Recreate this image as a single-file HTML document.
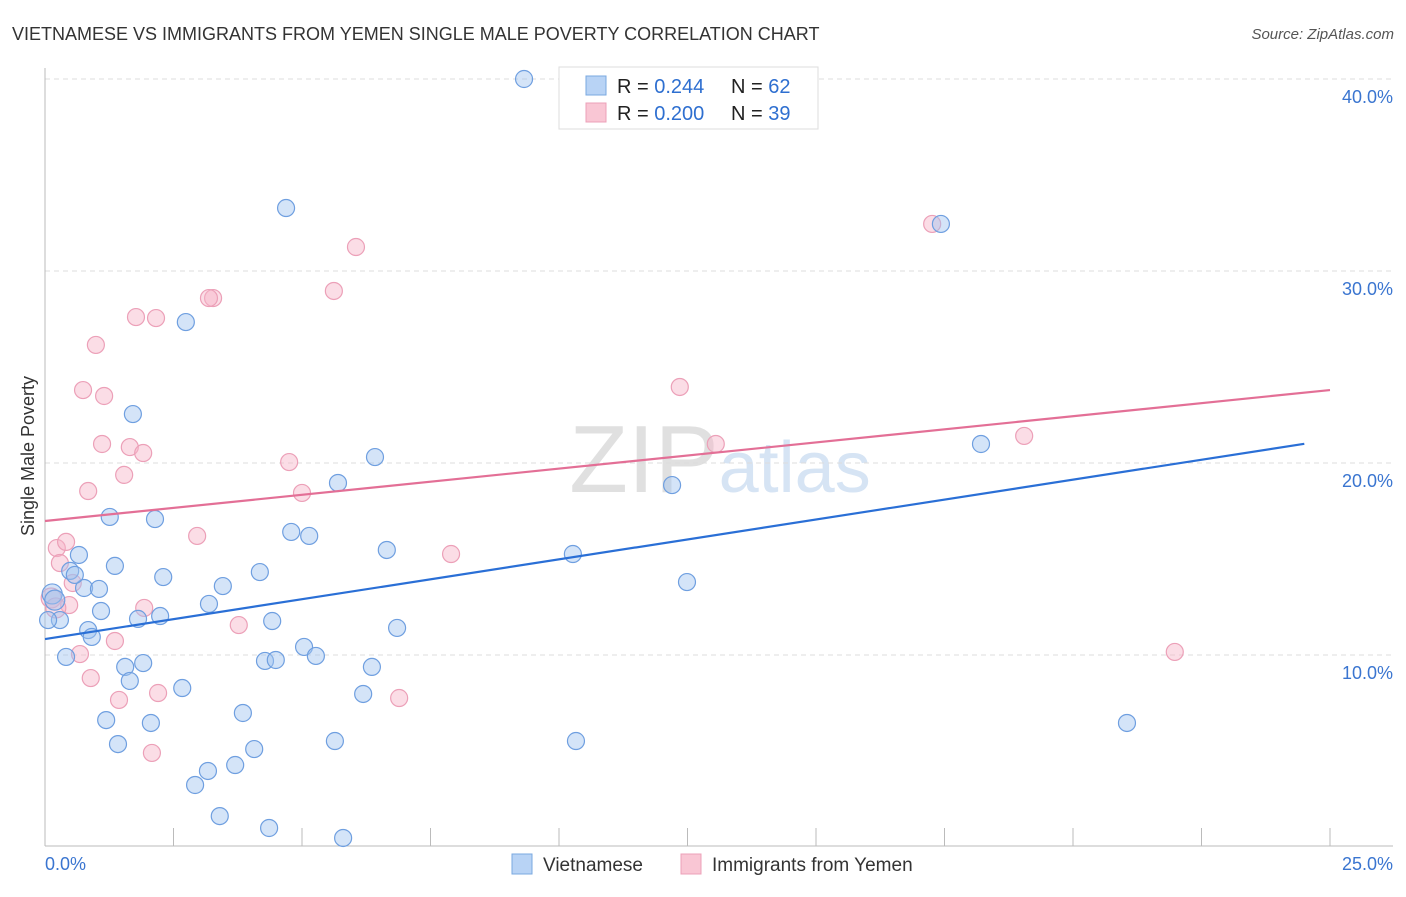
<!DOCTYPE html>
<html><head><meta charset="utf-8"><style>
body{margin:0;background:#fff;font-family:"Liberation Sans",sans-serif;}
svg text{font-family:"Liberation Sans",sans-serif;}
</style></head><body>
<svg id="chart" width="1406" height="892">
<text x="12" y="40" font-size="18" fill="#333">VIETNAMESE VS IMMIGRANTS FROM YEMEN SINGLE MALE POVERTY CORRELATION CHART</text>
<text x="1394" y="39" font-size="15" fill="#555" text-anchor="end" font-style="italic">Source: ZipAtlas.com</text>
<text x="720" y="492" font-size="96" fill="#e4e4e4" text-anchor="middle" font-family="Liberation Serif"><tspan fill="#e0e0e0">ZIP</tspan><tspan fill="#d6e4f4" font-family="Liberation Sans" font-size="72">atlas</tspan></text>
<g id="grid"></g><g id="axes"></g>
<g id="pink"></g><g id="blue"></g><g id="lines"></g>
<text transform="translate(34,456) rotate(-90)" font-size="18" fill="#333" text-anchor="middle">Single Male Poverty</text>
<g>
<rect x="559" y="67" width="259" height="62" fill="#fff" stroke="#ddd"/>
<rect x="586" y="76" width="20" height="19" fill="#b8d3f5" stroke="#7aa8e0"/>
<rect x="586" y="103" width="20" height="19" fill="#f9c6d4" stroke="#eca0b8"/>
<text x="617" y="93" font-size="20" fill="#222">R = <tspan fill="#2e6fd0">0.244</tspan><tspan x="731">N = </tspan><tspan fill="#2e6fd0">62</tspan></text>
<text x="617" y="120" font-size="20" fill="#222">R = <tspan fill="#2e6fd0">0.200</tspan><tspan x="731">N = </tspan><tspan fill="#2e6fd0">39</tspan></text>
</g>
<g>
<rect x="512" y="854" width="20" height="20" fill="#b8d3f5" stroke="#7aa8e0"/>
<text x="543" y="871" font-size="19" fill="#333">Vietnamese</text>
<rect x="681" y="854" width="20" height="20" fill="#f9c6d4" stroke="#eca0b8"/>
<text x="712" y="871" font-size="19" fill="#333">Immigrants from Yemen</text>
</g>
</svg>
<script>
const blueX=[9.32,4.69,17.43,2.74,1.71,6.42,18.21,5.70,12.20,1.26,2.14,4.79,5.14,6.65,0.66,10.27,1.36,0.49,4.18,2.30,12.49,3.46,0.76,1.05,0.14,0.19,3.19,1.09,2.24,1.81,0.29,4.42,0.84,6.85,0.91,5.04,5.27,0.41,1.91,4.28,4.49,1.56,6.36,1.65,2.67,6.19,3.85,1.19,2.06,21.05,5.64,10.33,1.42,4.07,3.70,3.17,2.92,3.40,4.36,5.80,0.06,0.58];
const blueY=[40.0,33.28,32.45,27.34,22.55,20.31,20.99,18.96,18.85,17.19,17.08,16.41,16.20,15.47,15.21,15.26,14.64,14.38,14.32,14.06,13.80,13.59,13.49,13.44,13.18,12.86,12.66,12.29,12.03,11.88,11.82,11.77,11.30,11.41,10.94,10.42,9.95,9.90,9.58,9.69,9.74,9.38,9.38,8.65,8.28,7.97,6.98,6.61,6.46,6.46,5.52,5.52,5.36,5.10,4.27,3.96,3.23,1.61,0.99,0.47,11.82,14.17];
const pinkX=[3.27,3.19,6.05,17.26,5.62,1.77,2.16,0.99,0.74,1.15,12.35,1.11,1.65,1.91,13.05,19.05,4.75,1.54,0.84,5.00,2.96,0.23,0.41,0.29,7.90,0.54,0.12,0.47,0.21,1.93,3.77,1.36,0.68,21.98,0.89,2.20,6.89,1.44,2.08];
const pinkY=[28.59,28.59,31.25,32.45,28.96,27.60,27.55,26.15,23.80,23.49,23.96,20.99,20.83,20.52,20.99,21.41,20.05,19.38,18.54,18.44,16.20,15.57,15.89,14.79,15.26,13.75,12.97,12.60,12.45,12.45,11.56,10.73,10.05,10.16,8.80,8.02,7.76,7.66,4.90];
const blueTrend=[10.83,21.0];
const pinkTrend=[16.98,23.8];
const yTicks=[10,20,30,40];
const yTickLabels=["10.0%","20.0%","30.0%","40.0%"];
const xTicks=[0,2.5,5,7.5,10,12.5,15,17.5,20,22.5,25];
const NS="http://www.w3.org/2000/svg";
const sx=v=>45+v*51.4, sy=v=>847-v*19.2;
function mk(tag,parent,attrs){const e=document.createElementNS(NS,tag);for(const k in attrs)e.setAttribute(k,attrs[k]);document.getElementById(parent).appendChild(e);return e;}
yTicks.forEach((t,i)=>{
 let g=mk('line','grid',{x1:45,x2:1393,y1:sy(t),y2:sy(t),stroke:'#ddd','stroke-dasharray':'5,4'});
 
 
 let l=mk('text','axes',{x:1393,y:sy(t)+24,'text-anchor':'end','font-size':18,fill:'#3a75d0'});l.textContent=yTickLabels[i];
 
 
});
let ya=mk('line','axes',{x1:45,x2:45,y1:68,y2:846,stroke:'#bbb'});


let xa=mk('line','axes',{x1:45,x2:1393,y1:846,y2:846,stroke:'#bbb'});


xTicks.forEach(t=>{let k=mk('line','axes',{x1:sx(t),x2:sx(t),y1:828,y2:846,stroke:'#bbb'});
 
 });
let x0=mk('text','axes',{x:45,y:870,'font-size':18,fill:'#3a75d0'});x0.textContent='0.0%';


let x1=mk('text','axes',{x:1393,y:870,'font-size':18,fill:'#3a75d0','text-anchor':'end'});x1.textContent='25.0%';


function pts(X,Y,g,fill,stroke,name){X.forEach((x,i)=>{const c=mk('circle',g,{cx:sx(x),cy:sy(Y[i]),r:(x<0.3&&Y[i]>12&&Y[i]<13.3)?10:8.5,fill:fill,stroke:stroke,'stroke-width':1.2});
 
 });}
pts(pinkX,pinkY,'pink','rgba(246,180,200,0.45)','#eca0b8','yemen-point');
pts(blueX,blueY,'blue','rgba(160,196,240,0.45)','#6f9fe0','vietnamese-point');
let bl=mk('line','lines',{x1:sx(0),x2:sx(24.5),y1:sy(blueTrend[0]),y2:sy(blueTrend[0]+(blueTrend[1]-blueTrend[0])*24.5/24.5),stroke:'#2a6fd6','stroke-width':2.2});


let pl=mk('line','lines',{x1:sx(0),x2:sx(25),y1:sy(pinkTrend[0]),y2:sy(pinkTrend[1]),stroke:'#e36f96','stroke-width':2.2});


</script>
</body></html>
